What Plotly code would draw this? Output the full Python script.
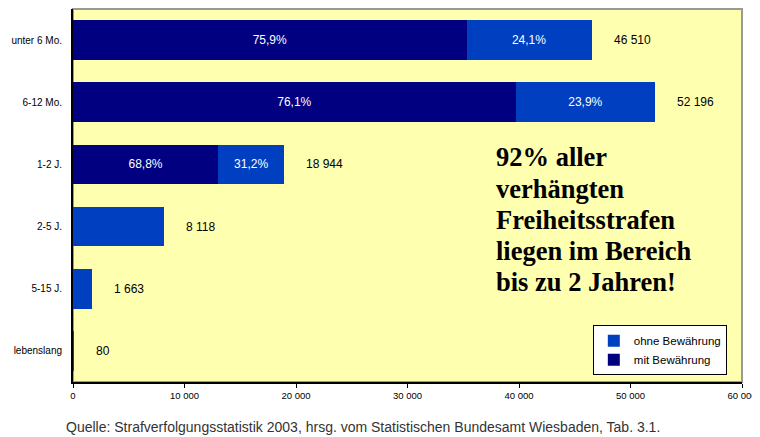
import plotly.graph_objects as go

categories = ["unter 6 Mo.", "6-12 Mo.", "1-2 J.", "2-5 J.", "5-15 J.", "lebenslang"]
totals = [46510, 52196, 18944, 8118, 1663, 80]
mit_bewaehrung = [35301, 39721, 13033, 0, 0, 0]
ohne_bewaehrung = [11209, 12475, 5911, 8118, 1663, 80]
mit_labels = ["75,9%", "76,1%", "68,8%", "", "", ""]
ohne_labels = ["24,1%", "23,9%", "31,2%", "", "", ""]
total_labels = ["46 510", "52 196", "18 944", "8 118", "1 663", "80"]
x_ticks = [0, 10000, 20000, 30000, 40000, 50000, 60000]
message_lines = ["92% aller", "verhängten", "Freiheitsstrafen", "liegen im Bereich", "bis zu 2 Jahren!"]

NAVY = "#000080"
BLUE = "#0040C0"
SANS = "Liberation Sans, Arial, sans-serif"
SERIF = "Liberation Serif, Times New Roman, serif"

fig = go.Figure()
fig.add_trace(go.Bar(
    y=categories, x=mit_bewaehrung, orientation="h", name="mit Bewährung",
    marker=dict(color=NAVY, line=dict(width=0)), width=0.64,
    text=mit_labels, textposition="inside", insidetextanchor="middle",
    textfont=dict(color="white", size=12, family=SANS), textangle=0,
))
fig.add_trace(go.Bar(
    y=categories, x=ohne_bewaehrung, orientation="h", name="ohne Bewährung",
    marker=dict(color=BLUE, line=dict(width=0)), width=0.64,
    text=ohne_labels, textposition="inside", insidetextanchor="middle",
    textfont=dict(color="white", size=12, family=SANS), textangle=0,
))

for cat, tot, lab in zip(categories, totals, total_labels):
    fig.add_annotation(x=tot, y=cat, text=lab, showarrow=False, xanchor="left",
                       xshift=20, font=dict(size=12, color="black", family=SANS))

line_y = [0.602, 0.518, 0.435, 0.352, 0.268]
for txt, yy in zip(message_lines, line_y):
    fig.add_annotation(
        xref="paper", yref="paper", x=0.629, y=yy, xanchor="left", yanchor="middle",
        text="<b>" + txt + "</b>", showarrow=False, align="left",
        font=dict(size=26.5, color="black", family=SERIF),
    )

fig.add_annotation(
    xref="paper", yref="paper", x=0.434, y=-0.121, xanchor="center", yanchor="middle",
    text="Quelle: Strafverfolgungsstatistik 2003, hrsg. vom Statistischen Bundesamt Wiesbaden, Tab. 3.1.",
    showarrow=False, font=dict(size=14, color="#333333", family=SANS),
)

fig.add_shape(type="rect", xref="paper", yref="paper", x0=0, y0=0, x1=1, y1=1,
              line=dict(color="#999999", width=2), layer="below")

fig.update_layout(
    width=752, height=429,
    margin=dict(l=65, r=18, t=1, b=55),
    barmode="stack",
    bargap=0.36,
    separators=", ",
    paper_bgcolor="white",
    plot_bgcolor="#FFFFB0",
    showlegend=True,
    legend=dict(
        x=0.777, y=0.152, xanchor="left", yanchor="top",
        traceorder="reversed", bgcolor="white", bordercolor="black", borderwidth=1,
        font=dict(size=11.5, family=SANS, color="black"), itemwidth=30,
        tracegroupgap=0, itemclick=False,
    ),
    xaxis=dict(
        range=[0, 60000], tickvals=x_ticks, tickformat=",d",
        showgrid=False, zeroline=False, showline=True, linecolor="black", linewidth=2,
        ticks="outside", ticklen=4, tickcolor="black", tickwidth=1,
        tickfont=dict(size=9.5, family=SANS, color="black"),
    ),
    yaxis=dict(
        categoryorder="array", categoryarray=categories, autorange="reversed",
        showgrid=False, zeroline=False, showline=True, linecolor="black", linewidth=2,
        ticks="", ticklabelstandoff=7,
        tickfont=dict(size=10, family=SANS, color="black"),
    ),
)

fig.write_html(
    "out.html",
    config={"displayModeBar": False},
    post_script="document.body.style.overflow='hidden';",
)
